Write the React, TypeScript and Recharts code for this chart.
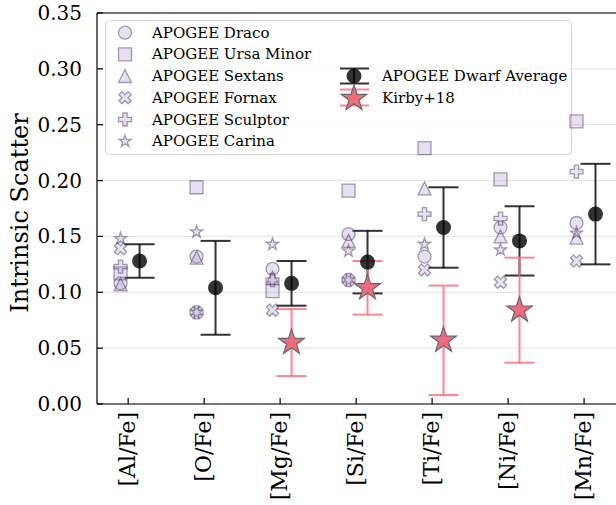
import { ScatterChart, Scatter, XAxis, YAxis, CartesianGrid, ErrorBar, ReferenceLine } from 'recharts';

const categories = ['[Al/Fe]', '[O/Fe]', '[Mg/Fe]', '[Si/Fe]', '[Ti/Fe]', '[Ni/Fe]', '[Mn/Fe]'];
const categoryTicks = [0, 1, 2, 3, 4, 5, 6];
const yTicks = [0, 0.05, 0.1, 0.15, 0.2, 0.25, 0.3, 0.35];

// scatter of the individual dwarf galaxies
const draco = [0.108, 0.132, 0.121, 0.152, 0.132, 0.158, 0.162];
const ursaMinor = [0.117, 0.194, 0.101, 0.191, 0.229, 0.201, 0.253];
const sextans = [0.107, 0.131, 0.113, 0.146, 0.193, 0.150, 0.149];
const fornax = [0.139, 0.082, 0.084, 0.111, 0.120, 0.109, 0.128];
const sculptor = [0.123, 0.082, 0.111, 0.111, 0.170, 0.166, 0.208];
const carina = [0.148, 0.154, 0.143, 0.137, 0.143, 0.138, 0.153];

// dwarf average with error
const dwarfAverage = [0.128, 0.104, 0.108, 0.127, 0.158, 0.146, 0.170];
const dwarfAverageErr = [0.015, 0.042, 0.020, 0.028, 0.036, 0.031, 0.045];

// Kirby+18 (Mg, Si, Ti, Ni only)
const kirbyIndex = [2, 3, 4, 5];
const kirby = [0.055, 0.104, 0.057, 0.084];
const kirbyErr = [0.030, 0.024, 0.049, 0.047];

const FONT = '"DejaVu Serif", serif';
const DWARF_FILL = 'rgba(160,130,200,0.25)';
const DWARF_EDGE = 'rgba(60,45,80,0.45)';
const AVG_COLOR = 'rgba(0,0,0,0.8)';
const KIRBY_FILL = '#F26B7D';
const KIRBY_BAR = 'rgba(255,110,128,0.85)';

const DWARF_OFFSET = -0.1;
const SIDE_OFFSET = 0.15;

type Kind = 'circle' | 'square' | 'triangle' | 'x' | 'plus' | 'star';

const PLUS_PTS = [[-1, -3], [1, -3], [1, -1], [3, -1], [3, 1], [1, 1], [1, 3], [-1, 3], [-1, 1], [-3, 1], [-3, -1], [-1, -1]];

function markerPath(kind: Kind, cx: number, cy: number, s: number) {
    const h = s / 2;
    if (kind === 'circle') {
        return `M${cx - h},${cy} a${h},${h} 0 1,0 ${s},0 a${h},${h} 0 1,0 ${-s},0 Z`;
    }
    if (kind === 'square') {
        return `M${cx - h},${cy - h} h${s} v${s} h${-s} Z`;
    }
    if (kind === 'triangle') {
        return `M${cx},${cy - h} L${cx + h},${cy + h} L${cx - h},${cy + h} Z`;
    }
    if (kind === 'plus' || kind === 'x') {
        const a = kind === 'x' ? Math.PI / 4 : 0;
        const k = s / 6;
        return PLUS_PTS.map(([px, py], i) => {
            const rx = px * Math.cos(a) - py * Math.sin(a);
            const ry = px * Math.sin(a) + py * Math.cos(a);
            return `${i === 0 ? 'M' : 'L'}${cx + rx * k},${cy + ry * k}`;
        }).join(' ') + ' Z';
    }
    // star
    const pts: string[] = [];
    for (let i = 0; i < 10; i++) {
        const r = i % 2 === 0 ? h : h * 0.381966;
        const ang = -Math.PI / 2 + (i * Math.PI) / 5;
        pts.push(`${i === 0 ? 'M' : 'L'}${cx + r * Math.cos(ang)},${cy + r * Math.sin(ang)}`);
    }
    return pts.join(' ') + ' Z';
}

const dwarfSeries: { name: string; values: number[]; kind: Kind }[] = [
    { name: 'APOGEE Draco', values: draco, kind: 'circle' },
    { name: 'APOGEE Ursa Minor', values: ursaMinor, kind: 'square' },
    { name: 'APOGEE Sextans', values: sextans, kind: 'triangle' },
    { name: 'APOGEE Fornax', values: fornax, kind: 'x' },
    { name: 'APOGEE Sculptor', values: sculptor, kind: 'plus' },
    { name: 'APOGEE Carina', values: carina, kind: 'star' },
];

const avgData = dwarfAverage.map((v, i) => ({ x: i + SIDE_OFFSET, y: v, err: dwarfAverageErr[i] }));
const kirbyData = kirby.map((v, i) => ({ x: kirbyIndex[i] + SIDE_OFFSET, y: v, err: kirbyErr[i] }));

const YTick = ({ x, y, payload }: any) => (
    <g>
        <line x1={x + 15} x2={x + 21} y1={y} y2={y} stroke="#000" strokeWidth={1.2} />
        <text x={x} y={y} dy={7} textAnchor="end" fontSize={20} fontFamily={FONT} fill="#000">
            {payload.value.toFixed(2)}
        </text>
    </g>
);

const XTick = ({ x, y, payload }: any) => (
    <g>
        <line x1={x} x2={x} y1={y - 8} y2={y - 14} stroke="#000" strokeWidth={1.2} />
        <text transform={`translate(${x + 7},${y}) rotate(-90)`} textAnchor="end" fontSize={22} fontFamily={FONT} fill="#000">
            {categories[payload.value]}
        </text>
    </g>
);

// legend box drawn inside the chart svg so the scatter points sit above it
function LegendBox() {
    const rows = [32.7, 54.3, 76, 97.7, 119.5, 141.3];
    return (
        <g>
            <rect x={105.5} y={20.5} width={466} height={134} rx={4} fill="rgba(255,255,255,0.8)" stroke="#d4d4d4" strokeWidth={1} />
            {dwarfSeries.map((s, i) => (
                <g key={s.name}>
                    <path d={markerPath(s.kind, 125, rows[i], 13)} fill={DWARF_FILL} stroke={DWARF_EDGE} strokeWidth={1.3} />
                    <text x={152} y={rows[i]} dy={5} fontSize={15} fontFamily={FONT} fill="#000">{s.name}</text>
                </g>
            ))}
            <g>
                <line x1={354} x2={354} y1={68.5} y2={83.5} stroke={AVG_COLOR} strokeWidth={2} />
                <line x1={340} x2={369} y1={68.5} y2={68.5} stroke={AVG_COLOR} strokeWidth={2} />
                <line x1={340} x2={369} y1={83.5} y2={83.5} stroke={AVG_COLOR} strokeWidth={2} />
                <circle cx={354} cy={76} r={7.5} fill={AVG_COLOR} />
                <text x={382} y={76} dy={5} fontSize={15} fontFamily={FONT} fill="#000">APOGEE Dwarf Average</text>
            </g>
            <g>
                <line x1={354} x2={354} y1={89.5} y2={105.5} stroke={KIRBY_BAR} strokeWidth={2} />
                <line x1={340} x2={369} y1={89.5} y2={89.5} stroke={KIRBY_BAR} strokeWidth={2} />
                <line x1={340} x2={369} y1={105.5} y2={105.5} stroke={KIRBY_BAR} strokeWidth={2} />
                <path d={markerPath('star', 354, 98.5, 27)} fill={KIRBY_FILL} stroke="#666" strokeWidth={1.2} />
                <text x={382} y={97.7} dy={5} fontSize={15} fontFamily={FONT} fill="#000">Kirby+18</text>
            </g>
        </g>
    );
}

export default function App() {
    return (
        <div style={{ position: 'absolute', left: 0, top: 0, width: 616, height: 505, background: '#fff' }}>
            <ScatterChart width={616} height={505} margin={{ top: 13, right: 0, bottom: 0, left: 0 }}>
                <CartesianGrid horizontal vertical={false} stroke="#e8e8e8" strokeWidth={1.3} />
                <XAxis
                    type="number"
                    dataKey="x"
                    domain={[-0.41, 6.42]}
                    allowDataOverflow
                    ticks={categoryTicks}
                    interval={0}
                    height={101}
                    tickSize={0}
                    tickMargin={8}
                    tickLine={false}
                    axisLine={{ stroke: '#000', strokeWidth: 1.2 }}
                    tick={<XTick />}
                />
                <YAxis
                    type="number"
                    dataKey="y"
                    domain={[0, 0.35]}
                    allowDataOverflow
                    ticks={yTicks}
                    interval={0}
                    width={97}
                    tickSize={0}
                    tickMargin={15}
                    tickLine={false}
                    axisLine={{ stroke: '#000', strokeWidth: 1.2 }}
                    tick={<YTick />}
                />
                <ReferenceLine y={0.35} stroke="#000" strokeWidth={1.2} />
                <LegendBox />
                <Scatter
                    name="APOGEE Dwarf Average"
                    data={avgData}
                    isAnimationActive={false}
                    shape={(p: any) => <circle cx={p.cx} cy={p.cy} r={7.5} fill={AVG_COLOR} />}
                >
                    <ErrorBar dataKey="err" direction="y" width={15} stroke={AVG_COLOR} strokeWidth={2} />
                </Scatter>
                {dwarfSeries.map((s) => (
                    <Scatter
                        key={s.name}
                        name={s.name}
                        data={s.values.map((v, i) => ({ x: i + DWARF_OFFSET, y: v }))}
                        isAnimationActive={false}
                        shape={(p: any) => (
                            <path d={markerPath(s.kind, p.cx, p.cy, 13)} fill={DWARF_FILL} stroke={DWARF_EDGE} strokeWidth={1.3} />
                        )}
                    />
                ))}
                <Scatter
                    name="Kirby+18"
                    data={kirbyData}
                    isAnimationActive={false}
                    shape={(p: any) => (
                        <path d={markerPath('star', p.cx, p.cy, 27)} fill={KIRBY_FILL} stroke="#666" strokeWidth={1.2} />
                    )}
                >
                    <ErrorBar dataKey="err" direction="y" width={15} stroke={KIRBY_BAR} strokeWidth={2} />
                </Scatter>
            </ScatterChart>
            <svg width={616} height={505} style={{ position: 'absolute', left: 0, top: 0, pointerEvents: 'none' }}>
                <text transform="translate(28,213) rotate(-90)" textAnchor="middle" fontSize={24} fontFamily={FONT} fill="#000">
                    Intrinsic Scatter
                </text>
            </svg>
        </div>
    );
}
